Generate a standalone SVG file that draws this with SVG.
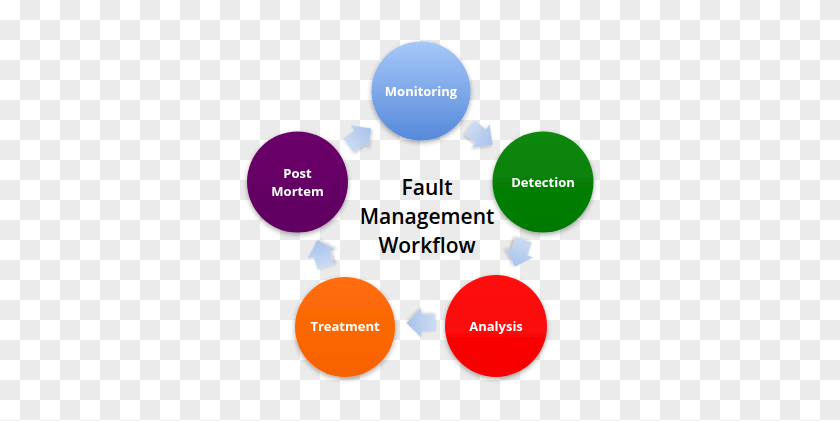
<svg xmlns="http://www.w3.org/2000/svg" width="840" height="421" viewBox="0 0 840 421">
<style>
.lbl{font-family:"Open Sans","Liberation Sans",sans-serif;font-weight:bold;font-size:13px;fill:#ffffff;text-anchor:middle}
.title{font-family:"Open Sans","Liberation Sans",sans-serif;font-weight:600;font-size:21px;fill:#000000;text-anchor:middle}
.node{filter:url(#sh)}
.arr{fill:url(#ga);filter:url(#ash)}
</style>
<defs>
<pattern id="cb" width="40" height="40" patternUnits="userSpaceOnUse">
<rect width="40" height="40" fill="#ffffff"/>
<rect x="20" y="0" width="20" height="20" fill="#ebebeb"/>
<rect x="0" y="20" width="20" height="20" fill="#ebebeb"/>
</pattern>
<filter id="sh" x="-30%" y="-30%" width="160%" height="160%">
<feGaussianBlur in="SourceAlpha" stdDeviation="2.5"/>
<feOffset dx="0" dy="1.5" result="b"/>
<feComponentTransfer><feFuncA type="linear" slope="0.35"/></feComponentTransfer>
<feMerge><feMergeNode/><feMergeNode in="SourceGraphic"/></feMerge>
</filter>
<filter id="ash" x="-40%" y="-40%" width="180%" height="180%">
<feGaussianBlur in="SourceAlpha" stdDeviation="1.5"/>
<feOffset dx="0" dy="1.5"/>
<feComponentTransfer><feFuncA type="linear" slope="0.25"/></feComponentTransfer>
<feMerge><feMergeNode/><feMergeNode in="SourceGraphic"/></feMerge>
</filter>
<linearGradient id="gm" x1="0" y1="0" x2="0" y2="1">
<stop offset="0" stop-color="#a6c8f8"/>
<stop offset="1" stop-color="#5689da"/>
</linearGradient>
<linearGradient id="gd" x1="0" y1="0" x2="0" y2="1">
<stop offset="0" stop-color="#0b880b"/>
<stop offset="1" stop-color="#027802"/>
</linearGradient>
<linearGradient id="gr" x1="0" y1="0" x2="0" y2="1">
<stop offset="0" stop-color="#ff1010"/>
<stop offset="1" stop-color="#f50000"/>
</linearGradient>
<linearGradient id="go" x1="0" y1="0" x2="0" y2="1">
<stop offset="0" stop-color="#ff6d0a"/>
<stop offset="1" stop-color="#f76200"/>
</linearGradient>
<linearGradient id="gp" x1="0" y1="0" x2="0" y2="1">
<stop offset="0" stop-color="#6a066a"/>
<stop offset="1" stop-color="#600060"/>
</linearGradient>
<linearGradient id="ga" x1="0" y1="0" x2="1" y2="0">
<stop offset="0" stop-color="#cbdbf3"/>
<stop offset="1" stop-color="#a7c2ea"/>
</linearGradient>
<path id="arrow" d="M -14,-8.5 L 0,-8.5 L 0,-14.5 L 14.5,0 L 0,14.5 L 0,8.5 L -14,8.5 Z"/>
</defs>
<rect width="840" height="421" fill="url(#cb)"/>
<g id="connectors">
<use href="#arrow" class="arr" transform="translate(481,136) rotate(36.7)"/>
<use href="#arrow" class="arr" transform="translate(519.5,253) rotate(108)"/>
<use href="#arrow" class="arr" transform="translate(421,323) rotate(180)"/>
<use href="#arrow" class="arr" transform="translate(321.5,254) rotate(-108)"/>
<use href="#arrow" class="arr" transform="translate(359.5,137) rotate(-36.7)"/>
</g>
<g id="monitoring" class="node">
<circle cx="421" cy="91" r="49.5" fill="url(#gm)"/>
<text class="lbl" x="421" y="96">Monitoring</text>
</g>
<g id="detection" class="node">
<circle cx="543" cy="182" r="50.5" fill="url(#gd)"/>
<text class="lbl" x="543" y="186.5">Detection</text>
</g>
<g id="analysis" class="node">
<circle cx="496" cy="326" r="51" fill="url(#gr)"/>
<text class="lbl" x="496" y="331">Analysis</text>
</g>
<g id="treatment" class="node">
<circle cx="345" cy="327" r="50" fill="url(#go)"/>
<text class="lbl" x="345" y="331">Treatment</text>
</g>
<g id="postmortem" class="node">
<circle cx="297.5" cy="182" r="50.5" fill="url(#gp)"/>
<text class="lbl" x="297.5" y="177.5">Post</text>
<text class="lbl" x="297.5" y="195.5">Mortem</text>
</g>
<g id="title">
<text class="title" x="427" y="195">Fault</text>
<text class="title" x="427" y="224">Management</text>
<text class="title" x="427" y="253">Workflow</text>
</g>
</svg>
